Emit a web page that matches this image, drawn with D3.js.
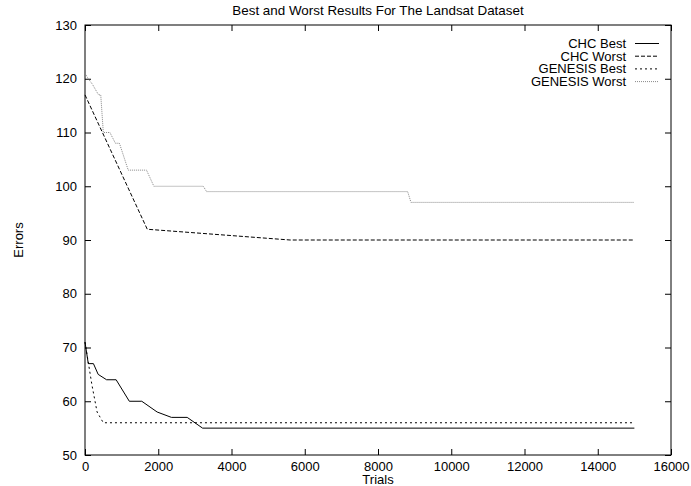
<!DOCTYPE html>
<html>
<head>
<meta charset="utf-8">
<script src="https://cdn.jsdelivr.net/npm/d3@7"></script>
<style>
  html, body { margin: 0; padding: 0; background: #fff; }
  svg { display: block; font-family: "Liberation Sans", Arial, sans-serif; }
</style>
</head>
<body>
<svg id="chart" width="691" height="486"></svg>
<script>
// ---- data ----
const chcBestTrials   = [0, 90, 230, 360, 590, 850, 1210, 1550, 1970, 2360, 2790, 3210, 15000];
const chcBestErrors   = [71, 67, 67, 65, 64, 64, 60, 60, 58, 57, 57, 55, 55];

const chcWorstTrials  = [0, 1700, 5600, 15000];
const chcWorstErrors  = [117, 92, 90, 90];

const genBestTrials   = [0, 190, 330, 500, 15000];
const genBestErrors   = [71, 63, 58, 56, 56];

const genWorstTrials  = [0, 90, 200, 370, 430, 500, 680, 830, 940, 1180, 1680, 1880, 3230, 3320, 8810, 8900, 15000];
const genWorstErrors  = [121, 120, 119, 117, 117, 110, 110, 108, 108, 103, 103, 100, 100, 99, 99, 97, 97];

const seriesNames = ["CHC Best", "CHC Worst", "GENESIS Best", "GENESIS Worst"];
const xTickValues = [0, 2000, 4000, 6000, 8000, 10000, 12000, 14000, 16000];
const yTickValues = [50, 60, 70, 80, 90, 100, 110, 120, 130];

const titleText = "Best and Worst Results For The Landsat Dataset";
const xLabel = "Trials";
const yLabel = "Errors";

// ---- layout ----
const svg = d3.select("#chart");
const pLeft = 85, pRight = 671, pTop = 25, pBottom = 455;

const x = d3.scaleLinear().domain([0, 16000]).range([pLeft, pRight]);
const y = d3.scaleLinear().domain([50, 130]).range([pBottom, pTop]);

const styles = [
  { color: "#000", dash: null },
  { color: "#000", dash: "4,2" },
  { color: "#000", dash: "2,3" },
  { color: "#888", dash: "1,1" }
];

const series = [
  d3.zip(chcBestTrials, chcBestErrors),
  d3.zip(chcWorstTrials, chcWorstErrors),
  d3.zip(genBestTrials, genBestErrors),
  d3.zip(genWorstTrials, genWorstErrors)
];

const fontSize = 13;

// title
svg.append("text")
  .attr("x", (pLeft + pRight) / 2).attr("y", 15)
  .attr("text-anchor", "middle")
  .attr("font-size", 13.4)
  .text(titleText);

// axes: ticks inward, mirrored
const tickLen = 6;
const gAxes = svg.append("g");

const axB = d3.axisBottom(x).tickValues(xTickValues).tickSize(-tickLen).tickPadding(7).tickFormat(d3.format("d"));
const axT = d3.axisTop(x).tickValues(xTickValues).tickSize(-tickLen).tickFormat("");
const axL = d3.axisLeft(y).tickValues(yTickValues).tickSize(-tickLen).tickPadding(8).tickFormat(d3.format("d"));
const axR = d3.axisRight(y).tickValues(yTickValues).tickSize(-tickLen).tickFormat("");

function styleAxis(g) {
  g.select(".domain").remove();
  g.selectAll("line").attr("stroke", "#000");
  g.selectAll("text").attr("font-size", fontSize).attr("font-family", "Liberation Sans, Arial, sans-serif").attr("fill", "#000");
}

gAxes.append("g").attr("transform", `translate(0,${pBottom})`).call(axB).call(styleAxis);
gAxes.append("g").attr("transform", `translate(0,${pTop})`).call(axT).call(styleAxis);
gAxes.append("g").attr("transform", `translate(${pLeft},0)`).call(axL).call(styleAxis);
gAxes.append("g").attr("transform", `translate(${pRight},0)`).call(axR).call(styleAxis);

// frame
svg.append("rect")
  .attr("x", pLeft).attr("y", pTop)
  .attr("width", pRight - pLeft).attr("height", pBottom - pTop)
  .attr("fill", "none").attr("stroke", "#000").attr("stroke-width", 1);

// lines
const line = d3.line().x(d => x(d[0])).y(d => y(d[1]));
series.forEach((s, i) => {
  svg.append("path")
    .datum(s)
    .attr("d", line)
    .attr("fill", "none")
    .attr("stroke", styles[i].color)
    .attr("stroke-width", 1)
    .attr("stroke-dasharray", styles[i].dash);
});

// axis labels
svg.append("text")
  .attr("x", (pLeft + pRight) / 2).attr("y", 483.5)
  .attr("text-anchor", "middle")
  .attr("font-size", fontSize)
  .text(xLabel);

svg.append("text")
  .attr("transform", `translate(23,240) rotate(-90)`)
  .attr("text-anchor", "middle")
  .attr("font-size", fontSize)
  .text(yLabel);

// legend
const legRows = [43.5, 56.2, 68.9, 81.6];
seriesNames.forEach((name, i) => {
  svg.append("text")
    .attr("x", 626).attr("y", legRows[i])
    .attr("dy", "0.35em")
    .attr("text-anchor", "end")
    .attr("font-size", fontSize)
    .text(name);
  svg.append("line")
    .attr("x1", 635).attr("x2", 659)
    .attr("y1", legRows[i]).attr("y2", legRows[i])
    .attr("stroke", styles[i].color)
    .attr("stroke-width", 1)
    .attr("stroke-dasharray", styles[i].dash);
});
</script>
</body>
</html>
